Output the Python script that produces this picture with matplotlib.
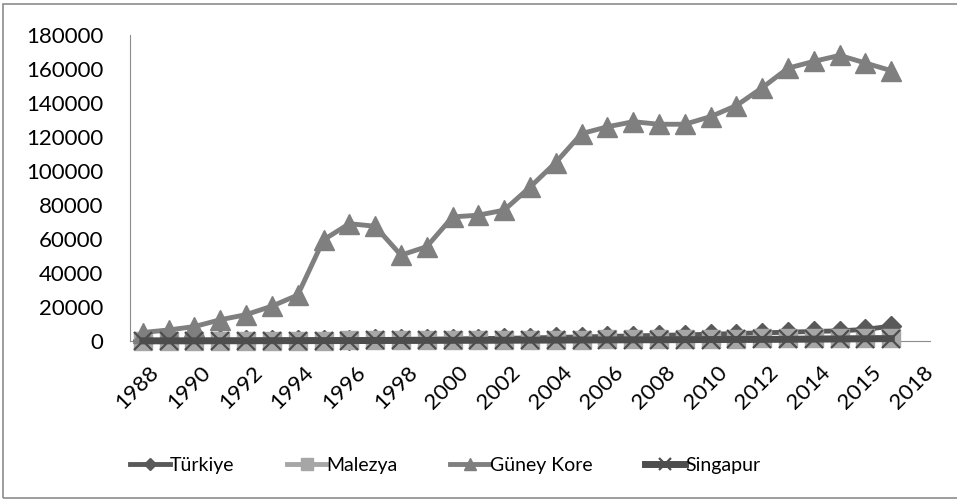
import matplotlib.pyplot as plt
import matplotlib.transforms as mtransforms
from matplotlib.patches import Rectangle

plt.rcParams['font.family'] = ['Lato', 'DejaVu Sans']

# x axis tick labels (every second category, as in the source chart)
tick_labels = ["1988", "1990", "1992", "1994", "1996", "1998", "2000", "2002",
               "2004", "2006", "2008", "2010", "2012", "2014", "2015", "2018"]

turkiye = [300, 350, 400, 450, 500, 550, 600, 700, 800, 900, 1000, 1100, 1200,
           1400, 1600, 1800, 2100, 2400, 2700, 3000, 3300, 3600, 4000, 4400,
           4800, 5200, 5600, 6000, 6800, 8800]
malezya = [100, 100, 150, 150, 200, 200, 250, 250, 300, 300, 350, 400, 450,
           500, 550, 600, 700, 800, 900, 1000, 1100, 1200, 1300, 1400, 1500,
           1600, 1700, 1800, 1900, 2000]
guney_kore = [5000, 6500, 8500, 12500, 15500, 20500, 27000, 59500, 69000,
              67500, 50500, 55500, 73000, 74000, 77000, 90500, 105000, 122000,
              126000, 129000, 127500, 127500, 132000, 138500, 149000, 160500,
              164500, 168000, 163500, 159000]
singapur = [100, 100, 100, 150, 150, 200, 200, 250, 250, 300, 300, 350, 400,
            400, 450, 500, 550, 600, 650, 700, 750, 800, 850, 900, 950, 1000,
            1100, 1200, 1300, 1400]

x = list(range(len(guney_kore)))

fig = plt.figure(figsize=(9.57, 5.0), dpi=100)
ax = fig.add_axes([0.1358, 0.318, 0.8360, 0.612])

ax.plot(x, turkiye, color="#595959", lw=3.5, marker="D", ms=10,
        label="Türkiye", clip_on=False)
ax.plot(x, malezya, color="#A6A6A6", lw=3.5, marker="s", ms=13,
        label="Malezya", clip_on=False)
ax.plot(x, guney_kore, color="#7F7F7F", lw=3.5, marker="^", ms=14,
        label="Güney Kore", clip_on=False)
ax.plot(x, singapur, color="#4D4D4D", lw=5, marker="x", ms=13, mew=1.6,
        label="Singapur", clip_on=False)

ax.set_xlim(-0.5, 30.5)
ax.set_ylim(0, 180000)
ax.set_yticks(range(0, 180001, 20000))
ax.set_xticks(range(0, 31, 2))
ax.set_xticklabels(tick_labels, rotation=45, ha="right", va="top",
                   rotation_mode="anchor")
ax.tick_params(axis="both", length=0, labelsize=16, colors="black")
ax.tick_params(axis="x", pad=15)
ax.tick_params(axis="y", pad=19)

shift = mtransforms.ScaledTranslation(6 / 100, 0, fig.dpi_scale_trans)
for lbl in ax.get_xticklabels():
    lbl.set_transform(lbl.get_transform() + shift)

for side in ["top", "right"]:
    ax.spines[side].set_visible(False)
ax.spines["left"].set_color("#8C8C8C")
ax.spines["bottom"].set_color("#8C8C8C")
ax.spines["left"].set_zorder(0)
ax.spines["bottom"].set_zorder(0)

fig.legend(loc="center", bbox_to_anchor=(0.465, 0.07), ncol=4, frameon=False,
           fontsize=14, handlelength=2.05, columnspacing=2.7,
           handletextpad=0.0, markerscale=0.65)

# chart frame
fig.patches.append(Rectangle((0.003, 0.005), 1.2, 0.988, transform=fig.transFigure,
                             fill=False, edgecolor="#8C8C8C", lw=1.2))

fig.savefig("out.png", dpi=100)
